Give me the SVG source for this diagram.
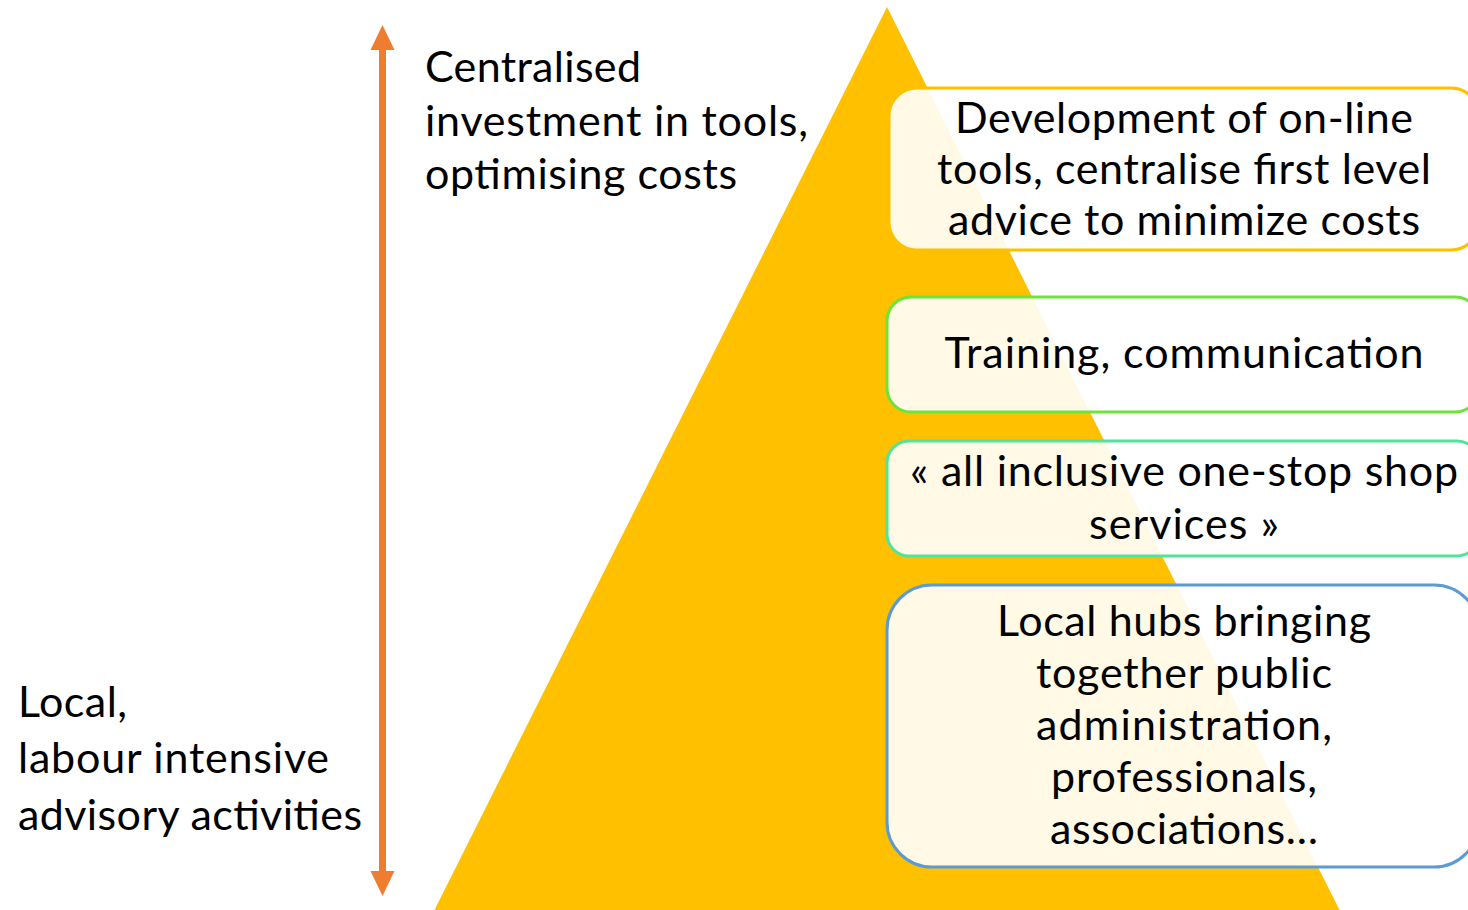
<svg xmlns="http://www.w3.org/2000/svg" width="1468" height="910" viewBox="0 0 1468 910">
<style>
  .t { font-family: "Lato", "Liberation Sans", sans-serif; font-size: 43px; fill: #000; }
  .c { text-anchor: middle; }
  .box { fill: #ffffff; fill-opacity: 0.9; stroke-width: 3; }
</style>
<rect width="1468" height="910" fill="#ffffff"/>
<g id="pyramid">
  <polygon points="887,7 1342,915 432,915" fill="#FFC000"/>
</g>
<g id="connectors">
  <line x1="382.5" y1="45" x2="382.5" y2="876" stroke="#ED7D31" stroke-width="7"/>
  <polygon points="382.5,25 394.5,50 370.5,50" fill="#ED7D31"/>
  <polygon points="382.5,896 394.5,871 370.5,871" fill="#ED7D31"/>
</g>
<g id="label-top">
  <text class="t" x="425" y="82" textLength="216">Centralised</text>
  <text class="t" x="425" y="136" textLength="383">investment in tools,</text>
  <text class="t" x="425" y="189" textLength="312">optimising costs</text>
</g>
<g id="label-bottom">
  <text class="t" x="18" y="717" textLength="109">Local,</text>
  <text class="t" x="18" y="773" textLength="311">labour intensive</text>
  <text class="t" x="18" y="830" textLength="344">advisory activities</text>
</g>
<g id="box1">
  <rect class="box" x="889" y="88" width="590" height="162" rx="28" stroke="#FFC000"/>
  <text class="t c" x="1184" y="133" textLength="458">Development of on-line</text>
  <text class="t c" x="1184" y="184" textLength="494">tools, centralise first level</text>
  <text class="t c" x="1184" y="235" textLength="472">advice to minimize costs</text>
</g>
<g id="box2">
  <rect class="box" x="887" y="297" width="592" height="115" rx="24" stroke="#6EE33A"/>
  <text class="t c" x="1184" y="368" textLength="479">Training, communication</text>
</g>
<g id="box3">
  <rect class="box" x="887" y="441" width="592" height="115" rx="22" stroke="#52E39A"/>
  <text class="t c" x="1184" y="486" textLength="548">« all inclusive one-stop shop</text>
  <text class="t c" x="1184" y="539" textLength="190">services »</text>
</g>
<g id="box4">
  <rect class="box" x="887" y="585" width="592" height="282" rx="45" stroke="#5B9BD5"/>
  <text class="t c" x="1184" y="636" textLength="374">Local hubs bringing</text>
  <text class="t c" x="1184" y="688" textLength="296">together public</text>
  <text class="t c" x="1184" y="740" textLength="296">administration,</text>
  <text class="t c" x="1184" y="792" textLength="266">professionals,</text>
  <text class="t c" x="1184" y="844" textLength="268">associations…</text>
</g>
</svg>
